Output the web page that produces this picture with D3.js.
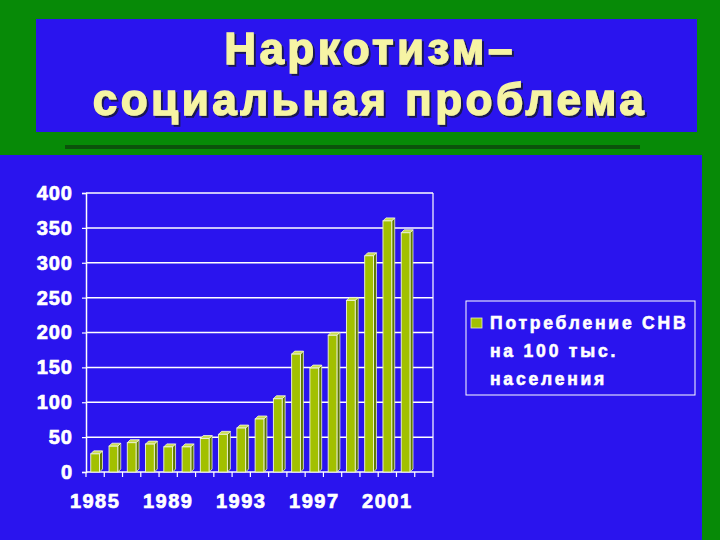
<!DOCTYPE html>
<html>
<head>
<meta charset="UTF-8">
<title>Наркотизм – социальная проблема</title>
<script src="https://d3js.org/d3.v7.min.js"></script>
<style>
  body { margin: 0; background: #078a07; }
  text { font-family: "Liberation Sans", Arial, sans-serif; font-weight: bold; }
</style>
</head>
<body>
<div id="slide"></div>
<script>
// data
var years = ["1985", "1986", "1987", "1988", "1989", "1990", "1991", "1992", "1993", "1994",
             "1995", "1996", "1997", "1998", "1999", "2000", "2001", "2002", "2003"];
var usage = [26, 37, 42, 40, 36, 36, 48, 54, 63, 76,
             105, 169, 149, 196, 246, 310, 360, 343, null];
var yTicks = [0, 50, 100, 150, 200, 250, 300, 350, 400];
var xLabels = ["1985", "1989", "1993", "1997", "2001"];
var titleLines = ["Наркотизм–", "социальная проблема"];
var legendLines = ["Потребление СНВ", "на 100 тыс.", "населения"];

var width = 720, height = 540;
var blue = "#2a14ee", green = "#078a07";

var svg = d3.select("#slide").append("svg")
    .attr("width", width)
    .attr("height", height);

// shadow for the title
var shadow = svg.append("defs").append("filter").attr("id", "shadow")
    .attr("x", "-5%").attr("y", "-20%").attr("width", "110%").attr("height", "140%");
shadow.append("feDropShadow").attr("dx", 2).attr("dy", 2).attr("stdDeviation", 0.6)
    .attr("flood-color", "#141440").attr("flood-opacity", 0.9);

// slide background
svg.append("rect").attr("width", width).attr("height", height).attr("fill", green);
svg.append("rect").attr("x", 36).attr("y", 19).attr("width", 661).attr("height", 113).attr("fill", blue);
svg.append("rect").attr("x", 65).attr("y", 145).attr("width", 575).attr("height", 4).attr("fill", "#0b520b");
svg.append("rect").attr("x", 0).attr("y", 155).attr("width", 702).attr("height", 385).attr("fill", blue);

// title
svg.append("g")
   .attr("font-size", 44).attr("text-anchor", "middle").attr("letter-spacing", 3.5)
   .attr("filter", "url(#shadow)")
   .selectAll("text")
   .data(titleLines)
   .enter().append("text")
   .attr("x", 370)
   .attr("y", function(d, i) { return 64 + i * 51; })
   .attr("fill", "#f6f4a4").attr("stroke", "#f6f4a4").attr("stroke-width", 1.4)
   .text(function(d) { return d; });

// chart
var plot = {left: 86, right: 433, top: 193, bottom: 472};

var x = d3.scaleBand().domain(years).range([plot.left, plot.right]).padding(0);
var y = d3.scaleLinear().domain([0, 400]).range([plot.bottom, plot.top]);

// grid + frame
svg.append("g").selectAll("line")
   .data(yTicks.slice(1))
   .enter().append("line")
   .attr("x1", plot.left).attr("x2", plot.right)
   .attr("y1", function(d) { return y(d); }).attr("y2", function(d) { return y(d); })
   .attr("stroke", "white").attr("stroke-width", 1.5);
svg.append("line").attr("x1", plot.right).attr("x2", plot.right)
   .attr("y1", plot.top).attr("y2", plot.bottom)
   .attr("stroke", "white").attr("stroke-width", 1.2);

// y axis
var yAxis = svg.append("g")
   .attr("transform", "translate(" + plot.left + ",0)")
   .call(d3.axisLeft(y).tickValues(yTicks).tickSize(4).tickPadding(9));
yAxis.select(".domain").attr("stroke", "white").attr("stroke-width", 1.5);
yAxis.selectAll(".tick line").attr("stroke", "white").attr("stroke-width", 1.2);
yAxis.selectAll(".tick text").attr("fill", "white").attr("font-size", 20)
   .attr("font-family", "Liberation Sans, Arial, sans-serif").attr("font-weight", "bold")
   .attr("letter-spacing", 1).attr("stroke", "white").attr("stroke-width", 0.7);

// x axis: ticks on category boundaries, labels every 4th year
var bounds = years.map(function(d) { return x(d); }).concat([plot.right]);
svg.append("line").attr("x1", plot.left).attr("x2", plot.right)
   .attr("y1", plot.bottom).attr("y2", plot.bottom)
   .attr("stroke", "white").attr("stroke-width", 1.5);
svg.append("g").selectAll("line")
   .data(bounds)
   .enter().append("line")
   .attr("x1", function(d) { return d; }).attr("x2", function(d) { return d; })
   .attr("y1", plot.bottom).attr("y2", plot.bottom + 5)
   .attr("stroke", "white").attr("stroke-width", 1.2);
svg.append("g").selectAll("text")
   .data(xLabels)
   .enter().append("text")
   .attr("x", function(d) { return x(d) + x.bandwidth() / 2; })
   .attr("y", 508)
   .attr("text-anchor", "middle")
   .attr("fill", "white").attr("font-size", 20).attr("letter-spacing", 1.5)
   .attr("stroke", "white").attr("stroke-width", 0.7)
   .text(function(d) { return d; });

// 3D bars
var bw = x.bandwidth() * 0.48, off = x.bandwidth() * 0.26, depth = 3;
var barData = years.map(function(d, i) { return {year: d, v: usage[i]}; })
                   .filter(function(d) { return d.v != null; });
var bars = svg.append("g").selectAll("g").data(barData).enter().append("g");

bars.append("polygon")   // side
   .attr("points", function(d) {
     var x0 = x(d.year) + off + bw, yt = y(d.v);
     return [[x0, yt], [x0 + depth, yt - depth], [x0 + depth, plot.bottom - depth], [x0, plot.bottom]].join(" ");
   })
   .attr("fill", "#5f7a00").attr("stroke", "#e8f0c8").attr("stroke-width", 0.8);
bars.append("polygon")   // top
   .attr("points", function(d) {
     var x0 = x(d.year) + off, yt = y(d.v);
     return [[x0, yt], [x0 + depth, yt - depth], [x0 + bw + depth, yt - depth], [x0 + bw, yt]].join(" ");
   })
   .attr("fill", "#c8dc50").attr("stroke", "#f4f8e0").attr("stroke-width", 0.8);
bars.append("rect")      // front
   .attr("x", function(d) { return x(d.year) + off; })
   .attr("y", function(d) { return y(d.v); })
   .attr("width", bw)
   .attr("height", function(d) { return plot.bottom - y(d.v); })
   .attr("fill", "#a2c000").attr("stroke", "#f0f6d8").attr("stroke-width", 0.9);

// legend
svg.append("rect").attr("x", 466).attr("y", 301).attr("width", 229).attr("height", 94)
   .attr("fill", "none").attr("stroke", "white").attr("stroke-width", 1);
svg.append("rect").attr("x", 471).attr("y", 318).attr("width", 11).attr("height", 10)
   .attr("fill", "#a2c000").attr("stroke", "#e8f0c8").attr("stroke-width", 0.8);
svg.append("g").selectAll("text")
   .data(legendLines)
   .enter().append("text")
   .attr("x", 490)
   .attr("y", function(d, i) { return 329 + i * 28; })
   .attr("fill", "white").attr("font-size", 17.5).attr("letter-spacing", 2.8)
   .attr("stroke", "white").attr("stroke-width", 0.6)
   .text(function(d) { return d; });
</script>
</body>
</html>
